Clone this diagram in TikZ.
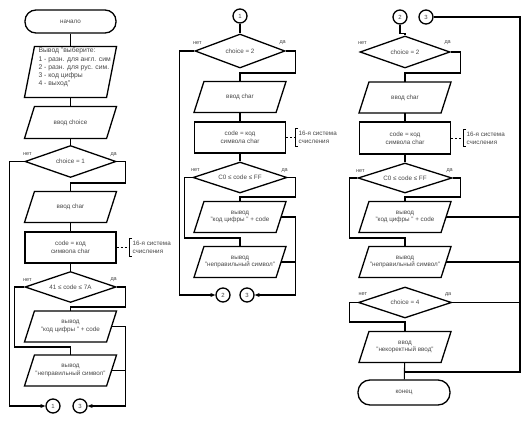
\documentclass[tikz,border=0pt]{standalone}
\usepackage{fontspec}
\setmainfont{Liberation Sans}
\usetikzlibrary{shapes.geometric,arrows.meta,calc}
\begin{document}
\begin{tikzpicture}[x=1pt,y=-1pt, line width=1.1pt,
  txt/.style={font=\fontsize{6.3}{7.8}\selectfont, text=black!72, inner sep=0pt, align=center},
  lbl/.style={font=\fontsize{5.5}{6}\selectfont, text=black!72, inner sep=0pt},
  term/.style={draw, line width=1.3pt, rounded corners=11pt, minimum width=91pt, minimum height=23pt, inner sep=0pt, txt},
  io/.style={rectangle, minimum width=81pt, minimum height=30pt, inner sep=0pt, txt,
    append after command={\pgfextra{\draw[line width=1.3pt]
      ([xshift=-5pt]\tikzlastnode.south west) -- ([xshift=-5pt]\tikzlastnode.south east) --
      ([xshift=5pt]\tikzlastnode.north east) -- ([xshift=5pt]\tikzlastnode.north west) -- cycle;}}},
  proc/.style={draw, line width=1.3pt, rectangle, minimum width=91pt, minimum height=31pt, inner sep=0pt, txt},
  dec/.style={draw, line width=1.3pt, diamond, shape aspect=2.8, minimum width=91pt, minimum height=32pt, inner sep=0pt, txt},
  conn/.style={draw, line width=1.3pt, circle, minimum size=14pt, inner sep=0pt, font=\fontsize{6}{6}\selectfont, text=black!72},
  arr/.style={-{Stealth[length=5pt,width=4pt]}},
  cmt/.style={txt, align=left, anchor=west, inner ysep=2pt, inner xsep=3pt},
  dsh/.style={line width=0.8pt, dash pattern=on 2pt off 2pt},
  brk/.style={line width=0.8pt}
]
\useasboundingbox (0,0) rectangle (530,425);

% ---------- column 1 ----------
\node[term] (start) at (70.5,21.5) {начало};
\node[io, minimum height=50pt] (menu) at (70.5,72) {};
\node[txt, font=\fontsize{6.8}{8.3}\selectfont, align=left, anchor=west] (menutxt) at (38,67.5) {Вывод "выберите:\\1 - разн. для англ. сим\\2 - разн. для рус. сим.\\3 - код цифры\\4 - выход"};
\node[io, minimum height=31pt] (inch) at (70.5,122.5) {ввод choice};
\node[dec] (d1) at (70.5,161.5) {choice = 1};
\node[io] (inc1) at (70.5,207) {ввод char};
\node[proc] (code1) at (70.5,247.5) {code = код\\символа char};
\node[cmt] (cm1) at (129,247.5) {16-я система\\счисления};
\node[dec, minimum height=31pt] (d2) at (70.5,287) {41 ≤ code ≤ 7A};
\node[io] (out1) at (70.5,326.5) {вывод\\"код цифры " + code};
\node[io] (bad1) at (70.5,370.5) {вывод\\"неправильный символ"};
\node[conn] (c1) at (53,406) {1};
\node[conn] (c3a) at (80,406) {3};
\node[lbl] (n1) at ($(d1.west)+(3,-7)$) {нет};
\node[lbl] (y1) at ($(d1.east)+(-3,-7)$) {да};
\node[lbl] (n2) at ($(d2.west)+(3,-7)$) {нет};
\node[lbl] (y2) at ($(d2.east)+(-3,-7)$) {да};

\draw (start) -- (menu);
\draw (menu) -- (inch);
\draw (inch) -- (d1);
\draw[arr] (d1.west) -- ++(-15,0) |- (c1);
\draw (d1.east) -- ++(9,0) -- ++(0,21.5) -| (inc1.north);
\draw (inc1) -- (code1);
\draw (code1) -- (d2);
\draw (d2.west) -- ++(-10,0) -- ++(0,60) -| (bad1.north);
\draw (d2.east) -- ++(9,0) -- ++(0,20) -| (out1.north);
\draw[arr] (out1.east) -- ++(14,0) |- (c3a);
\draw (bad1.east) -- ++(14,0);
\draw[dsh] (code1.east) -- (cm1.west);
\draw[brk] ([xshift=3pt]cm1.north west) -- (cm1.north west) -- (cm1.south west) -- ([xshift=3pt]cm1.south west);

% ---------- column 2 ----------
\node[conn] (c1b) at (240,16) {1};
\node[dec, minimum width=90pt, minimum height=34pt] (d3) at (240,51) {choice = 2};
\node[io] (inc2) at (240,97) {ввод char};
\node[proc] (code2) at (240,137.5) {code = код\\символа char};
\node[cmt] (cm2) at (295,137.5) {16-я система\\счисления};
\node[dec, minimum width=94pt, minimum height=31pt] (d4) at (240,177.5) {C0 ≤ code ≤ FF};
\node[io] (out2) at (240,217) {вывод\\"код цифры " + code};
\node[io] (bad2) at (240,262) {вывод\\"неправильный символ"};
\node[conn] (c2) at (223,295) {2};
\node[conn] (c3b) at (247,295) {3};
\node[lbl] (n3) at ($(d3.west)+(3,-8)$) {нет};
\node[lbl] (y3) at ($(d3.east)+(-3,-8)$) {да};
\node[lbl] (n4) at ($(d4.west)+(3,-7)$) {нет};
\node[lbl] (y4) at ($(d4.east)+(-3,-7)$) {да};

\draw (c1b) -- (d3);
\draw[arr] (d3.west) -- ++(-15,0) |- (c2);
\draw (d3.east) -- ++(10,0) -- ++(0,22) -| (inc2.north);
\draw (inc2) -- (code2);
\draw (code2) -- (d4);
\draw (d4.west) -- ++(-8,0) -- ++(0,60.5) -| (bad2.north);
\draw (d4.east) -- ++(8,0) -- ++(0,19.5) -| (out2.north);
\draw[arr] (out2.east) -- ++(14.5,0) |- (c3b);
\draw (bad2.east) -- ++(14.5,0);
\draw[dsh] (code2.east) -- (cm2.west);
\draw[brk] ([xshift=3pt]cm2.north west) -- (cm2.north west) -- (cm2.south west) -- ([xshift=3pt]cm2.south west);

% ---------- column 3 ----------
\node[conn] (c2b) at (400,17) {2};
\node[conn] (c3c) at (426,17) {3};
\node[dec, minimum width=90pt, minimum height=32pt] (d5) at (405,52) {choice = 2};
\node[io] (inc3) at (405,97.5) {ввод char};
\node[proc, minimum height=32pt] (code3) at (405,138) {code = код\\символа char};
\node[cmt] (cm3) at (463,138) {16-я система\\счисления};
\node[dec, minimum width=94pt, minimum height=30pt] (d6) at (405,178) {C0 ≤ code ≤ FF};
\node[io] (out3) at (405,217) {вывод\\"код цифры " + code};
\node[io] (bad3) at (405,262) {вывод\\"неправильный символ"};
\node[dec, minimum width=93pt, minimum height=31pt] (d7) at (405,302.5) {choice = 4};
\node[io] (inc4) at (405,347) {ввод\\"некоректный ввод"};
\node[term, minimum width=92pt, minimum height=25pt, rounded corners=12pt] (end) at (404,392.5) {конец};
\node[lbl] (n5) at ($(d5.west)+(3,-9)$) {нет};
\node[lbl] (y5) at ($(d5.east)+(-3,-9)$) {да};
\node[lbl] (n6) at ($(d6.west)+(3,-7)$) {нет};
\node[lbl] (y6) at ($(d6.east)+(-3,-7)$) {да};
\node[lbl] (n7) at ($(d7.west)+(5,-8)$) {нет};
\node[lbl] (y7) at ($(d7.east)+(-4,-8)$) {да};
\coordinate (rtop) at (520,17);
\coordinate (j3) at (405,372);

\draw (c2b.south) -- ++(0,9) -| (d5.north);
\draw (d5.east) -- ++(10,0) -- ++(0,21) -| (inc3.north);
\draw (inc3) -- (code3);
\draw (code3) -- (d6);
\draw (d6.west) -- ++(-8,0) -- ++(0,60) -| (bad3.north);
\draw (d6.east) -- ++(8,0) -- ++(0,19) -| (out3.north);
\draw (c3c) -- (rtop) |- (j3);
\draw (out3.east) -- (out3.east -| rtop);
\draw (bad3.east) -- (bad3.east -| rtop);
\draw (d7.east) -- (d7.east -| rtop);
\draw (d7.west) -- ++(-8,0) -- ++(0,19.5) -| (inc4.north);
\draw (inc4) -- (end);
\draw[dsh] (code3.east) -- (cm3.west);
\draw[brk] ([xshift=3pt]cm3.north west) -- (cm3.north west) -- (cm3.south west) -- ([xshift=3pt]cm3.south west);
\end{tikzpicture}
\end{document}
